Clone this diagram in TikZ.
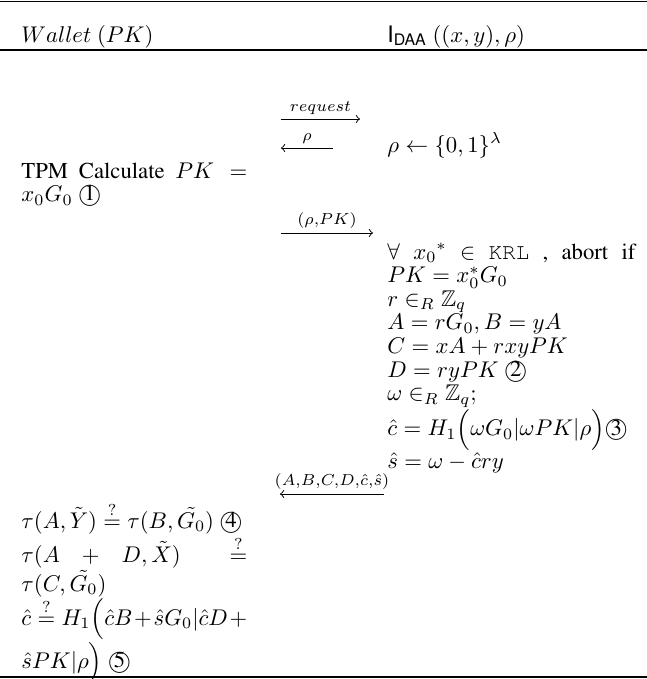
\documentclass[tikz,border=0pt]{standalone}
\usepackage[T1]{fontenc}
\usepackage{times}
\usepackage{amsmath,amssymb}
\tikzset{
  cell/.style={anchor=base west, inner sep=0pt, align=justify},
  leftcell/.style={cell, text width=99.4pt},
  rightcell/.style={cell, text width=109.1pt},
  msg/.style={->, line width=0.4pt},
  msglbl/.style={above, inner sep=1.6pt},
  hrule/.style={line width=0.6pt},
}
\begin{document}
\begin{tikzpicture}[x=0.44pt, y=-0.44pt, >=to, font=\fontsize{10}{10.4}\selectfont]
  \useasboundingbox (0,0) rectangle (647,679);
  \draw[hrule] (0,1.5) -- (647,1.5);
  \node[cell] (wallet) at (21,42) {$Wallet$ $(PK)$};
  \node[cell] (issuer) at (387,42) {\textsf{I}$_{\textsf{DAA}}$ $((x,y),\rho)$};
  \draw[line width=0.45pt] (0,50) -- (647,50);
  \coordinate (req-s) at (281,119);
  \coordinate (req-e) at (360,119);
  \draw[msg] (req-s) -- node[msglbl] (req-l) {$\scriptstyle request$} (req-e);
  \coordinate (nonce-s) at (333,148);
  \coordinate (nonce-e) at (281,148);
  \draw[msg] (nonce-s) -- node[msglbl] (nonce-l) {$\scriptstyle \rho$} (nonce-e);
  \node[cell] (nonce) at (387,152) {$\rho \leftarrow \{0,1\}^{\lambda}$};
  \node[leftcell] (tpm) at (21,178) {TPM Calculate $PK = x_0G_0$ \textcircled{1}};
  \coordinate (pk-s) at (281,233);
  \coordinate (pk-e) at (373,233);
  \draw[msg] (pk-s) -- node[msglbl] (pk-l) {$\scriptstyle (\rho,PK)$} (pk-e);
  \node[rightcell] (sign) at (387,259) {$\forall$ ${x_0}^*$ $\in$ \texttt{KRL} , abort if\linebreak
    $PK = x_0^*G_0$\newline
    $r \in_R \mathbb{Z}_q$\newline
    $A = rG_0, B = yA$\newline
    $C = xA + rxyPK$\newline
    $D = ryPK$ \textcircled{2}\newline
    $\omega \in_R \mathbb{Z}_q;$\newline
    $\hat{c} = H_1\Big(\omega G_0|\omega PK|\rho\Big)$\textcircled{3}\newline
    $\hat{s} = \omega - \hat{c}ry$};
  \coordinate (cred-s) at (384,494);
  \coordinate (cred-e) at (280,494);
  \draw[msg] (cred-s) -- node[msglbl] (cred-l) {$\scriptstyle (A,B,C,D,\hat{c},\hat{s})$} (cred-e);
  \node[leftcell] (verify) at (21,528) {$\tau(A,\tilde{Y}) \stackrel{?}{=} \tau(B,\tilde{G_0})$ \textcircled{4}\newline
    $\tau(A + D,\tilde{X}) \stackrel{?}{=} \tau(C,\tilde{G_0})$\newline
    $\hat{c} \stackrel{?}{=} H_1\Big(\hat{c}B + \hat{s}G_0|\hat{c}D + \hat{s}PK|\rho\Big)$ \textcircled{5}};
  \draw[hrule] (0,677) -- (647,677);
\end{tikzpicture}
\end{document}
